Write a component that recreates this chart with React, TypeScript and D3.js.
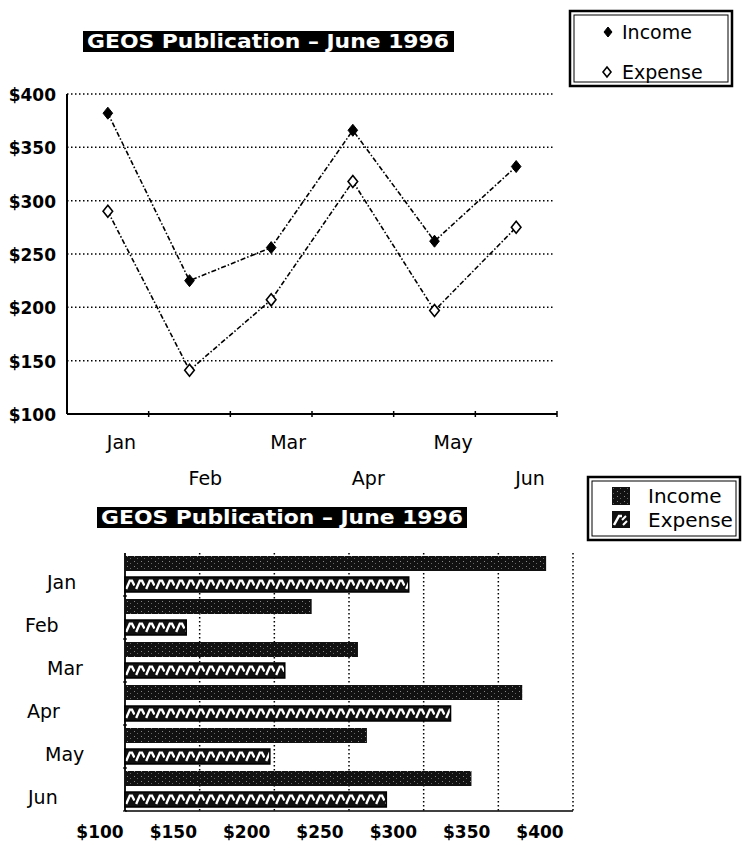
import React from "react";
import * as d3 from "d3";

const months = ["Jan", "Feb", "Mar", "Apr", "May", "Jun"];
const income = [382, 225, 256, 366, 262, 332];
const expense = [290, 141, 207, 318, 197, 275];
const valueTicks = [100, 150, 200, 250, 300, 350, 400];
const tickLabels = ["$100", "$150", "$200", "$250", "$300", "$350", "$400"];
const seriesNames = ["Income", "Expense"];
const titleText = "GEOS Publication \u2013 June 1996";

const FONT = "'DejaVu Sans', 'Liberation Sans', sans-serif";

function diamond(cx: number, cy: number, r: number) {
  return `M${cx},${cy - r} L${cx + r * 0.8},${cy} L${cx},${cy + r} L${cx - r * 0.8},${cy} Z`;
}

export default function App() {
  // ---------- line chart ----------
  const x = d3.scaleBand<string>().domain(months).range([67, 557]);
  const y = d3.scaleLinear().domain([100, 400]).range([414, 94]);
  const cx = (m: string) => (x(m) as number) + x.bandwidth() / 2;
  const line = d3
    .line<number>()
    .x((_, i) => cx(months[i]))
    .y((d) => y(d));

  // ---------- bar chart ----------
  const xb = d3.scaleLinear().domain([100, 400]).range([125, 573]);
  const xl = d3.scaleLinear().domain([100, 400]).range([100, 540]);
  const yb = d3.scaleBand<string>().domain(months).range([553, 811]);
  const step = yb.step();
  const barLabelX = [47, 25, 47, 27, 45, 28];

  const dots = "1.5 2.5";
  const e0 = 24; // expense bar offset within band

  return (
    <svg
      width={742}
      height={848}
      style={{ position: "absolute", left: 0, top: 0, background: "#fff" }}
      fontFamily={FONT}
    >
      <defs>
        <pattern id="incPat" patternUnits="userSpaceOnUse" width={7} height={5}>
          <rect width={7} height={5} fill="#111" />
          <rect x={1} y={1} width={1} height={1} fill="#888" />
          <rect x={4} y={3} width={1} height={1} fill="#666" />
        </pattern>
        <pattern
          id="expPat"
          patternUnits="userSpaceOnUse"
          x={125}
          y={yb(months[0]) as number}
          width={10}
          height={step}
        >
          <rect width={10} height={step} fill="#111" />
          <path
            d={`M1.2,${e0 + 12} L4.8,${e0 + 3.6} L7,${e0 + 3.6} L9.4,${e0 + 8.5}`}
            stroke="#fff"
            strokeWidth={2.4}
            fill="none"
          />
        </pattern>
        <pattern id="expLeg" patternUnits="userSpaceOnUse" x={612} y={511} width={18} height={17}>
          <rect width={18} height={17} fill="#111" />
          <path d="M2,14 L7,5 L10,5" stroke="#fff" strokeWidth={2.5} fill="none" />
          <path d="M10,9 L14,5 M11,14 L15,10" stroke="#fff" strokeWidth={2} fill="none" />
        </pattern>
      </defs>

      {/* ===== Title 1 ===== */}
      <rect x={83} y={31} width={371} height={21} fill="#000" />
      <text
        x={268}
        y={48}
        fill="#fff"
        fontWeight="bold"
        fontSize={19}
        textAnchor="middle"
        textLength={362}
        lengthAdjust="spacingAndGlyphs"
      >
        {titleText}
      </text>

      {/* ===== Legend 1 ===== */}
      <rect x={570} y={11} width={162} height={75} fill="#fff" stroke="#000" strokeWidth={2.5} />
      <rect x={574} y={15} width={154} height={67} fill="none" stroke="#000" strokeWidth={1} />
      <path d={diamond(608, 32, 5)} fill="#000" stroke="#000" strokeWidth={1} />
      <text x={622} y={39} fontSize={19}>
        {seriesNames[0]}
      </text>
      <path d={diamond(607, 72, 5)} fill="#fff" stroke="#000" strokeWidth={1.6} />
      <text x={622} y={79} fontSize={19}>
        {seriesNames[1]}
      </text>

      {/* ===== Line chart grid ===== */}
      {valueTicks.slice(1).map((v) => (
        <line
          key={"g" + v}
          x1={67}
          x2={553}
          y1={y(v)}
          y2={y(v)}
          stroke="#000"
          strokeWidth={1.5}
          strokeDasharray={dots}
        />
      ))}
      {/* axes */}
      <line x1={67} x2={67} y1={y(400)} y2={y(100)} stroke="#000" strokeWidth={2} />
      <line x1={67} x2={557} y1={y(100)} y2={y(100)} stroke="#000" strokeWidth={1.8} />
      {months.map((m) => {
        const tx = (x(m) as number) + x.bandwidth();
        return <line key={"t" + m} x1={tx} x2={tx} y1={y(100) - 3} y2={y(100) + 3} stroke="#000" strokeWidth={1.5} />;
      })}
      {valueTicks.map((v, i) => (
        <text key={"yl" + v} x={56} y={y(v) + 7} fontSize={17} fontWeight="bold" textAnchor="end">
          {tickLabels[i]}
        </text>
      ))}
      {months.map((m, i) => (
        <text key={"xl" + m} x={cx(m) - 1} y={i % 2 === 0 ? 449 : 485} fontSize={19}>
          {m}
        </text>
      ))}

      {/* series lines */}
      <path d={line(income) as string} fill="none" stroke="#000" strokeWidth={1.6} strokeDasharray="5 2 1.5 2" />
      <path d={line(expense) as string} fill="none" stroke="#000" strokeWidth={1.6} strokeDasharray="5 2 1.5 2" />
      {income.map((v, i) => (
        <path key={"mi" + i} d={diamond(cx(months[i]), y(v), 6)} fill="#000" stroke="#000" />
      ))}
      {expense.map((v, i) => (
        <path key={"me" + i} d={diamond(cx(months[i]), y(v), 6)} fill="#fff" stroke="#000" strokeWidth={1.6} />
      ))}

      {/* ===== Title 2 ===== */}
      <rect x={97} y={507} width={370} height={21} fill="#000" />
      <text
        x={282}
        y={524}
        fill="#fff"
        fontWeight="bold"
        fontSize={19}
        textAnchor="middle"
        textLength={362}
        lengthAdjust="spacingAndGlyphs"
      >
        {titleText}
      </text>

      {/* ===== Legend 2 ===== */}
      <rect x={588} y={477} width={152} height={63} fill="#fff" stroke="#000" strokeWidth={2.5} />
      <rect x={592} y={481} width={144} height={55} fill="none" stroke="#000" strokeWidth={1} />
      <rect x={612} y={487} width={18} height={18} fill="url(#incPat)" />
      <text x={648} y={503} fontSize={20}>
        {seriesNames[0]}
      </text>
      <rect x={612} y={511} width={18} height={17} fill="url(#expLeg)" />
      <text x={648} y={527} fontSize={20}>
        {seriesNames[1]}
      </text>

      {/* ===== Bar chart grid ===== */}
      {valueTicks.slice(1).map((v) => (
        <line
          key={"bg" + v}
          x1={xb(v)}
          x2={xb(v)}
          y1={553}
          y2={811}
          stroke="#000"
          strokeWidth={1.5}
          strokeDasharray={dots}
        />
      ))}
      <line x1={xb(100)} x2={xb(100)} y1={553} y2={811} stroke="#000" strokeWidth={1.8} />
      <line x1={xb(100)} x2={xb(400)} y1={811} y2={811} stroke="#000" strokeWidth={1.6} />
      {months.map((m) => (
        <line
          key={"bt" + m}
          x1={xb(100) - 2}
          x2={xb(100) + 2}
          y1={(yb(m) as number) + step}
          y2={(yb(m) as number) + step}
          stroke="#000"
          strokeWidth={1.2}
        />
      ))}

      {/* bars */}
      {months.map((m, i) => (
        <g key={"bar" + m}>
          <rect
            x={xb(100)}
            y={(yb(m) as number) + 3}
            width={xb(income[i]) - xb(100)}
            height={15}
            fill="url(#incPat)"
          />
          <rect
            x={xb(100)}
            y={(yb(m) as number) + e0}
            width={xb(expense[i]) - xb(100)}
            height={15}
            fill="url(#expPat)"
            stroke="#000"
            strokeWidth={1.5}
          />
        </g>
      ))}

      {/* bar axis labels */}
      {valueTicks.map((v, i) => (
        <text key={"bl" + v} x={xl(v)} y={838} fontSize={17} fontWeight="bold" textAnchor="middle">
          {tickLabels[i]}
        </text>
      ))}
      {months.map((m, i) => (
        <text
          key={"cl" + m}
          x={barLabelX[i]}
          y={(yb(m) as number) + yb.bandwidth() / 2 + 14}
          fontSize={19}
        >
          {m}
        </text>
      ))}
    </svg>
  );
}
